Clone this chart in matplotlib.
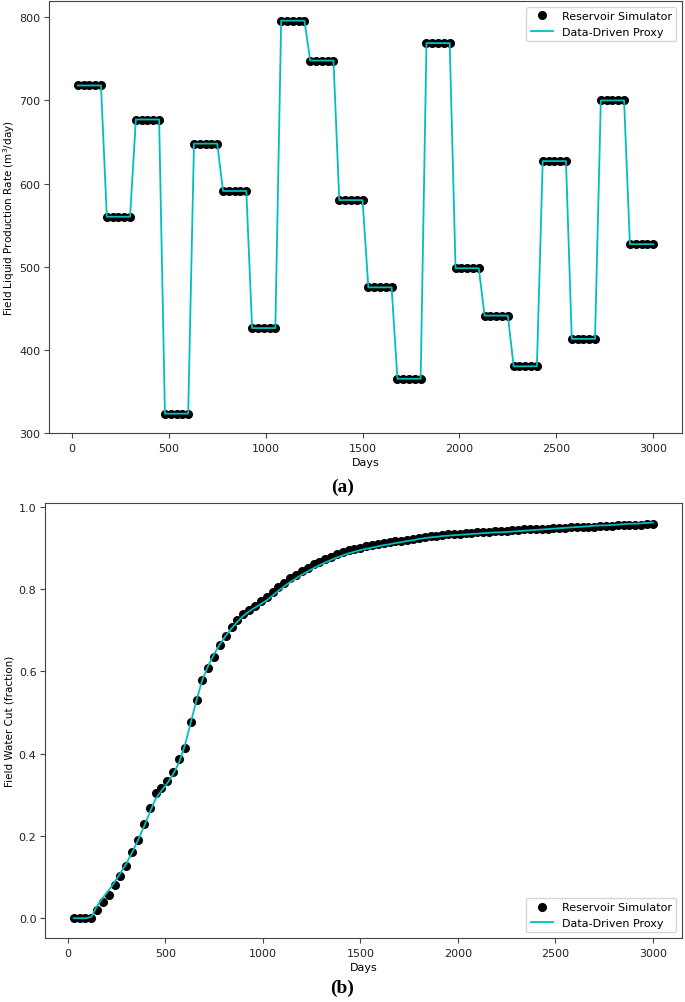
import numpy as np
import matplotlib
matplotlib.use("Agg")
import matplotlib.pyplot as plt

# days sampled every 30 days
days = list(range(30, 3001, 30))

# liquid rate: 20 control steps of 150 days (5 samples each)
rate_levels_sim = [718, 560, 677, 323, 648, 591, 426, 796, 748, 580,
                   475, 365, 769, 498, 441, 380, 627, 413, 700, 527]
rate_levels_proxy = [718, 560, 677, 323, 648, 591, 426, 796, 748, 580,
                     475, 365, 769, 498, 441, 380, 627, 413, 700, 527]
rate_sim = [v for v in rate_levels_sim for _ in range(5)]
rate_proxy = [v for v in rate_levels_proxy for _ in range(5)]

# water cut (fraction)
wc_sim = [
    0.0, 0.0, 0.0, 0.0, 0.020, 0.040, 0.057, 0.080, 0.103, 0.128,
    0.162, 0.191, 0.229, 0.267, 0.304, 0.316, 0.333, 0.355, 0.386, 0.415,
    0.476, 0.531, 0.579, 0.609, 0.636, 0.664, 0.685, 0.707, 0.725, 0.739,
    0.750, 0.760, 0.770, 0.780, 0.792, 0.805, 0.816, 0.826, 0.835, 0.844,
    0.852, 0.860, 0.867, 0.873, 0.879, 0.885, 0.890, 0.894, 0.898, 0.901,
    0.904, 0.907, 0.909, 0.912, 0.914, 0.916, 0.918, 0.920, 0.922, 0.924,
    0.926, 0.928, 0.930, 0.932, 0.933, 0.934, 0.935, 0.936, 0.937, 0.938,
    0.939, 0.940, 0.941, 0.942, 0.942, 0.943, 0.944, 0.945, 0.945, 0.946,
    0.947, 0.947, 0.948, 0.949, 0.949, 0.950, 0.950, 0.951, 0.952, 0.952,
    0.953, 0.953, 0.954, 0.955, 0.955, 0.956, 0.957, 0.957, 0.958, 0.959,
]
wc_proxy = [
    0.0, 0.0, 0.0, 0.003, 0.030, 0.050, 0.068, 0.088, 0.110, 0.133,
    0.160, 0.190, 0.222, 0.257, 0.290, 0.310, 0.328, 0.350, 0.378, 0.420,
    0.475, 0.530, 0.580, 0.614, 0.642, 0.666, 0.687, 0.705, 0.721, 0.735,
    0.746, 0.755, 0.764, 0.773, 0.784, 0.796, 0.807, 0.817, 0.826, 0.835,
    0.843, 0.851, 0.858, 0.865, 0.871, 0.877, 0.882, 0.887, 0.891, 0.895,
    0.898, 0.901, 0.904, 0.907, 0.909, 0.912, 0.914, 0.917, 0.919, 0.922,
    0.924, 0.926, 0.927, 0.929, 0.930, 0.931, 0.932, 0.933, 0.934, 0.935,
    0.936, 0.937, 0.938, 0.938, 0.939, 0.940, 0.941, 0.942, 0.943, 0.944,
    0.945, 0.946, 0.947, 0.948, 0.949, 0.950, 0.951, 0.952, 0.953, 0.954,
    0.955, 0.955, 0.956, 0.957, 0.958, 0.959, 0.959, 0.960, 0.961, 0.962,
]

plt.rcParams["font.size"] = 8
plt.rcParams["axes.edgecolor"] = "#444444"
plt.rcParams["xtick.color"] = "#444444"
plt.rcParams["ytick.color"] = "#444444"
plt.rcParams["xtick.labelcolor"] = "#222222"
plt.rcParams["ytick.labelcolor"] = "#222222"
plt.rcParams["ytick.major.pad"] = 2.5

fig = plt.figure(figsize=(6.85, 10.03), dpi=100)

# (a) liquid rate
ax1 = fig.add_axes([0.0715, 0.567, 0.924, 0.431])
ax1.plot(days, rate_sim, "o", color="black", markersize=5.5, label="Reservoir Simulator")
ax1.plot(days, rate_proxy, "-", color="c", lw=1.3, label="Data-Driven Proxy")
ax1.set_xlabel("Days", labelpad=3)
ax1.set_ylabel("Field Liquid Production Rate (m$^3$/day)", fontsize=7.5, labelpad=2)
ax1.set_xticks([0, 500, 1000, 1500, 2000, 2500, 3000])
ax1.legend(loc="upper right", fontsize=8)

# (b) water cut
ax2 = fig.add_axes([0.0653, 0.0638, 0.930, 0.434])
ax2.plot(days, wc_sim, "o", color="black", markersize=5.5, label="Reservoir Simulator")
ax2.plot(days, wc_proxy, "-", color="c", lw=1.3, label="Data-Driven Proxy")
ax2.set_xlabel("Days", labelpad=3)
ax2.set_ylabel("Field Water Cut (fraction)", fontsize=7.5, labelpad=3)
ax2.set_xticks([0, 500, 1000, 1500, 2000, 2500, 3000])
ax2.legend(loc="lower right", fontsize=8)

fig.text(0.5, 1 - 487 / 1003, "(a)", ha="center", va="center",
         family="Liberation Serif", fontweight="bold", fontsize=14)
fig.text(0.5, 1 - 988 / 1003, "(b)", ha="center", va="center",
         family="Liberation Serif", fontweight="bold", fontsize=14)

fig.savefig("out.png", dpi=100)
